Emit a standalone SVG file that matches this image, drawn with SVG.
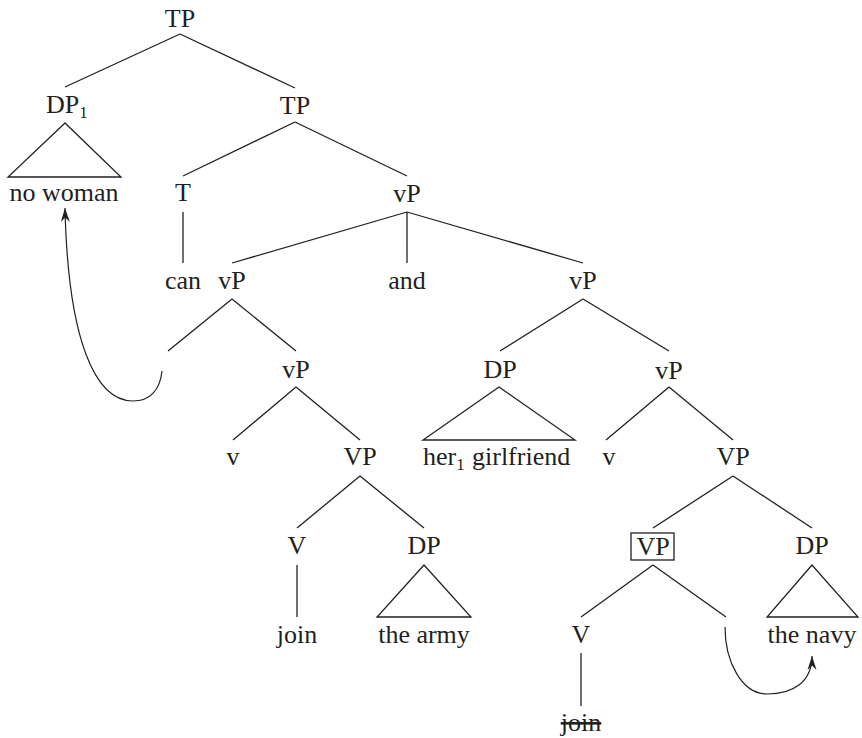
<svg xmlns="http://www.w3.org/2000/svg" width="862" height="738" viewBox="0 0 862 738">
  <style>
    text { font-family: "Liberation Serif", "Times New Roman", serif; font-size: 26px; fill: #231f20; text-anchor: middle; }
    text.start { text-anchor: start; }
    .sub { font-size: 17px; }
    .edge { stroke: #231f20; stroke-width: 1.3; fill: none; }
    .roof { stroke: #231f20; stroke-width: 1.3; fill: none; stroke-linejoin: miter; }
    .move { stroke: #231f20; stroke-width: 1.2; fill: none; marker-end: url(#stealth); }
  </style>
  <defs>
    <marker id="stealth" markerUnits="userSpaceOnUse" markerWidth="16" markerHeight="12" viewBox="-15 -6 16 12" refX="0" refY="0" orient="auto">
      <path d="M0,0 L-14,-4.5 L-9.5,0 L-14,4.5 Z" fill="#231f20"/>
    </marker>
  </defs>

  <!-- tree branches -->
  <g id="connectors">
    <path class="edge" d="M180,34 L65,87 M180,34 L295,88"/>
    <path class="edge" d="M295,122 L183,176 M295,122 L407,176"/>
    <path class="edge" d="M183,212 L183,263"/>
    <path class="edge" d="M407,212 L232,263 M407,212 L407,263 M407,212 L583,263"/>
    <path class="edge" d="M232,299 L168,351 M232,299 L296,351"/>
    <path class="edge" d="M583,299 L500,351 M583,299 L669,351"/>
    <path class="edge" d="M296,387 L233,440 M296,387 L360,440"/>
    <path class="edge" d="M669,387 L606,440 M669,387 L733,440"/>
    <path class="edge" d="M360,476 L297,528 M360,476 L424,528"/>
    <path class="edge" d="M733,476 L653,528 M733,476 L812,528"/>
    <path class="edge" d="M297,565 L297,617"/>
    <path class="edge" d="M653,565 L581,617 M653,565 L726,617"/>
    <path class="edge" d="M581,653 L581,706"/>
    <!-- movement arrows -->
    <path class="move" d="M162,371 C160,390 150,401 133,401 C95,401 68,340 65,208"/>
    <path class="move" d="M725,627 C725,662 742,694 767,694 C793,694 812,682 812,656"/>
  </g>

  <g id="tp-root"><text x="180" y="27">TP</text></g>
  <g id="dp1">
    <text class="start" x="46" y="113">DP<tspan class="sub" dy="5">1</tspan></text>
    <path class="roof" d="M65,123 L8,177 L121,177 Z"/>
    <text x="64" y="201">no woman</text>
  </g>
  <g id="tp"><text x="295" y="114">TP</text></g>
  <g id="t"><text x="183" y="201">T</text></g>
  <g id="can"><text x="183" y="289">can</text></g>
  <g id="vp-conj"><text x="407" y="202">vP</text></g>
  <g id="and"><text x="407" y="289">and</text></g>

  <!-- first conjunct -->
  <g id="vp-left"><text x="232" y="289">vP</text></g>
  <g id="vp-left-2"><text x="296" y="378">vP</text></g>
  <g id="v-left"><text x="233" y="465">v</text></g>
  <g id="vp-left-3"><text x="360" y="465">VP</text></g>
  <g id="v-join"><text x="297" y="554">V</text></g>
  <g id="join"><text x="297" y="643">join</text></g>
  <g id="dp-army">
    <text x="424" y="554">DP</text>
    <path class="roof" d="M424,565 L377,617 L471,617 Z"/>
    <text x="424" y="643">the army</text>
  </g>

  <!-- second conjunct -->
  <g id="vp-right"><text x="583" y="289">vP</text></g>
  <g id="dp-girlfriend">
    <text x="500" y="378">DP</text>
    <path class="roof" d="M499,387 L423,440 L575,440 Z"/>
    <text class="start" x="423" y="465">her<tspan class="sub" dy="5">1</tspan><tspan x="472" dy="-5">girlfriend</tspan></text>
  </g>
  <g id="vp-right-2"><text x="669" y="379">vP</text></g>
  <g id="v-right"><text x="609" y="465">v</text></g>
  <g id="vp-right-3"><text x="733" y="465">VP</text></g>
  <g id="vp-boxed">
    <rect x="631" y="533" width="43" height="27" fill="none" stroke="#231f20" stroke-width="1.3"/>
    <text x="653" y="555">VP</text>
  </g>
  <g id="v-deleted"><text x="581" y="643">V</text></g>
  <g id="join-deleted"><text x="581" y="731" text-decoration="line-through">join</text></g>
  <g id="dp-navy">
    <text x="812" y="554">DP</text>
    <path class="roof" d="M812,565 L767,617 L858,617 Z"/>
    <text x="812" y="643">the navy</text>
  </g>
</svg>
